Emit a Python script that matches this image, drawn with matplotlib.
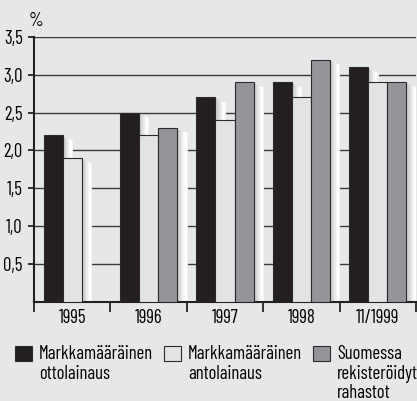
import numpy as np
import matplotlib.pyplot as plt
from matplotlib.patches import Rectangle

years = ["1995", "1996", "1997", "1998", "11/1999"]
ottolainaus = [2.2, 2.5, 2.7, 2.9, 3.1]
antolainaus = [1.9, 2.2, 2.4, 2.7, 2.9]
rahastot = [np.nan, 2.3, 2.9, 3.2, 2.9]
labels = ["Markkamääräinen\nottolainaus", "Markkamääräinen\nantolainaus",
          "Suomessa\nrekisteröidyt\nrahastot"]
colors = ["#231f20", "#e2e3e5", "#939598"]
yticks = [0.5, 1.0, 1.5, 2.0, 2.5, 3.0, 3.5]

plt.rcParams['font.family'] = ['Barlow Condensed', 'Roboto Condensed', 'DejaVu Sans']
bg = "#e6e7e9"
fs = 13.5

fig = plt.figure(figsize=(4.17, 4.01), dpi=100, facecolor=bg)
ax = fig.add_axes([0.0815, 0.247, 0.916, 0.661], facecolor=bg)

x = np.arange(len(years))
w = 0.25
# shadow strips, grey at the bar edge fading to white
shade = ["#c3c4c6", "#cbcccd", "#d4d5d6", "#dddedf", "#e7e7e8", "#f0f0f0",
         "#f7f7f7", "#fdfdfd", "#ffffff", "#f3f3f4"]
sw = 0.135 / len(shade)

for k, vals in enumerate([ottolainaus, antolainaus, rahastot]):
    pos = x + (k - 1) * w
    for p, v in zip(pos, vals):
        if np.isnan(v):
            continue
        x0 = p + w / 2
        for j, c in enumerate(shade):
            drop = 0.01 + 0.06 * (j / len(shade)) ** 0.6
            ax.add_patch(Rectangle((x0 + j * sw, 0), sw * 1.05, v - drop,
                                   facecolor=c, edgecolor="none", zorder=2 + k * 0.1))
    ax.bar(pos, vals, width=w, color=colors[k], edgecolor="#2b2b2b",
           linewidth=0.8, zorder=3 + k * 0.1)

ax.set_xlim(-0.5, len(years) - 0.5)
ax.set_ylim(0, 3.5)
ax.set_yticks(yticks)
ax.set_yticklabels([f"{t:.1f}".replace(".", ",") for t in yticks], fontsize=fs)
for t in yticks:
    ax.axhline(t, color="#3a3a3a", linewidth=1.0, zorder=1)

ax.set_xticks(x)
ax.set_xticklabels(years, fontsize=fs)
ax.tick_params(axis="x", length=0, pad=5)
ax.set_xticks(np.arange(-0.5, len(years)), minor=True)
ax.tick_params(axis="x", which="minor", length=7, width=1.3, color="#222222")
ax.tick_params(axis="y", length=4, width=1.3, color="#222222", pad=4)

for s in ["top", "right"]:
    ax.spines[s].set_visible(False)
ax.spines["left"].set_linewidth(1.5)
ax.spines["left"].set_color("#222222")
ax.spines["bottom"].set_linewidth(1.5)
ax.spines["bottom"].set_color("#222222")

fig.text(29 / 417, 1 - 21 / 401, "%", fontsize=fs, va="center", ha="left")

# legend
lx = [15, 164, 313]
for px, lab, c in zip(lx, labels, colors):
    fig.patches.append(Rectangle((px / 417, 1 - 361 / 401), 17 / 417, 15 / 401,
                                 transform=fig.transFigure, facecolor=c,
                                 edgecolor="#2b2b2b", linewidth=0.8))
    fig.text((px + 24) / 417, 1 - 345 / 401, lab, fontsize=fs, va="top",
             ha="left", linespacing=1.12)

fig.savefig("out.png", dpi=100, facecolor=bg)
